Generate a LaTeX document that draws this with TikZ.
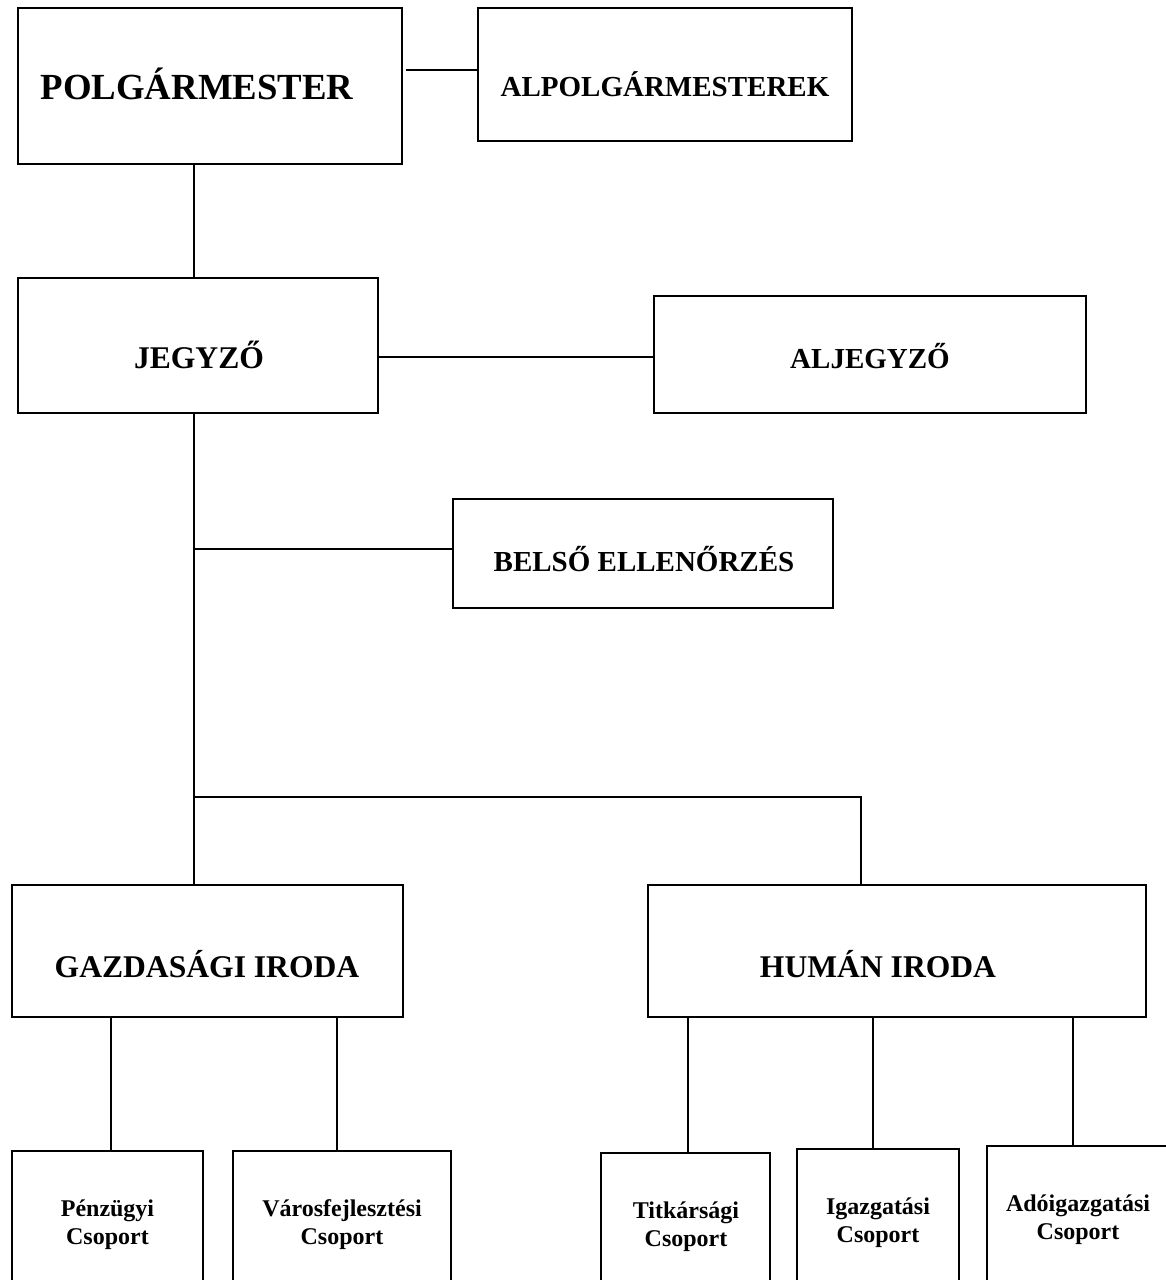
\documentclass[tikz,border=0pt]{standalone}
\usepackage{fontspec}
\setmainfont{Liberation Serif}
\tikzset{
  box/.style={draw=black, line width=1.8pt, rectangle, fill=white, inner sep=0pt, outer sep=0pt, anchor=north west},
  conn/.style={draw=black, line width=1.8pt},
  tA/.style={anchor=base, inner sep=0pt, font=\bfseries\fontsize{36.8}{40}\selectfont},
  tB/.style={anchor=base, inner sep=0pt, font=\bfseries\fontsize{31.6}{36}\selectfont},
  tC/.style={anchor=base, inner sep=0pt, font=\bfseries\fontsize{29}{33}\selectfont},
  tD/.style={anchor=base, inner sep=0pt, font=\bfseries\fontsize{24}{28}\selectfont},
}
\begin{document}
\begin{tikzpicture}[x=1pt, y=-1pt]
\useasboundingbox (0,0) rectangle (1166,1280);
\fill[white] (0,0) rectangle (1166,1280);
\clip (0,0) rectangle (1166,1280);

% boxes
\node[box, minimum width=384pt, minimum height=156pt] (polg) at (18,8) {};
\node[box, minimum width=374pt, minimum height=133pt] (alpolg) at (478,8) {};
\node[box, minimum width=360pt, minimum height=135pt] (jegyzo) at (18,278) {};
\node[box, minimum width=432pt, minimum height=117pt] (aljegyzo) at (654,296) {};
\node[box, minimum width=380pt, minimum height=109pt] (belso) at (453,499) {};
\node[box, minimum width=391pt, minimum height=132pt] (gazd) at (12,885) {};
\node[box, minimum width=498pt, minimum height=132pt] (human) at (648,885) {};
\node[box, minimum width=191pt, minimum height=160pt] (pen) at (12,1151) {};
\node[box, minimum width=218pt, minimum height=160pt] (varos) at (233,1151) {};
\node[box, minimum width=169pt, minimum height=160pt] (titk) at (601,1153) {};
\node[box, minimum width=162pt, minimum height=160pt] (igaz) at (797,1149) {};
\node[box, minimum width=190pt, minimum height=160pt] (ado) at (987,1146) {};

% labels
\node[tA] (polgT) at (197,99) {POLGÁRMESTER};
\node[tC] (alpolgT) at (665,96) {ALPOLGÁRMESTEREK};
\node[tB] (jegyzoT) at (199,368) {JEGYZŐ};
\node[tC] (aljegyzoT) at (870,368) {ALJEGYZŐ};
\node[tC] (belsoT) at (644,571) {BELSŐ ELLENŐRZÉS};
\node[tB] (gazdT) at (207,977) {GAZDASÁGI IRODA};
\node[tB] (humanT) at (878,977) {HUMÁN IRODA};

\node[tD] (penT1) at (107.5,1216) {Pénzügyi};
\node[tD] (penT2) at (107.5,1244) {Csoport};
\node[tD] (varosT1) at (342,1216) {Városfejlesztési};
\node[tD] (varosT2) at (342,1244) {Csoport};
\node[tD] (titkT1) at (686,1218) {Titkársági};
\node[tD] (titkT2) at (686,1246) {Csoport};
\node[tD] (igazT1) at (878,1214) {Igazgatási};
\node[tD] (igazT2) at (878,1242) {Csoport};
\node[tD] (adoT1) at (1078,1211) {Adóigazgatási};
\node[tD] (adoT2) at (1078,1239) {Csoport};

% connectors
\draw[conn] ([yshift=16pt]polg.east) ++(4pt,0) coordinate (a) -- (a -| alpolg.west);
\draw[conn] ([xshift=-16pt]polg.south) coordinate (b) -- (b |- jegyzo.north);
\draw[conn] ([yshift=-11.5pt]jegyzo.east) coordinate (c) -- (c -| aljegyzo.west);
\draw[conn] ([xshift=-4pt]jegyzo.south) coordinate (d) -- (d |- gazd.north);
\draw[conn] ([yshift=4.5pt]belso.west) coordinate (e) -- (e -| d);
\coordinate (split) at (194,797);
\coordinate (humtop) at (861,797);
\draw[conn] (split) -- (humtop) -- (humtop |- human.north);

\draw[conn] ([xshift=3.5pt]pen.north) coordinate (f1) -- (f1 |- gazd.south);
\draw[conn] ([xshift=-5pt]varos.north) coordinate (f2) -- (f2 |- gazd.south);
\draw[conn] ([xshift=2.5pt]titk.north) coordinate (f3) -- (f3 |- human.south);
\draw[conn] ([xshift=-5pt]igaz.north) coordinate (f4) -- (f4 |- human.south);
\draw[conn] ([xshift=-9pt]ado.north) coordinate (f5) -- (f5 |- human.south);
\end{tikzpicture}
\end{document}
